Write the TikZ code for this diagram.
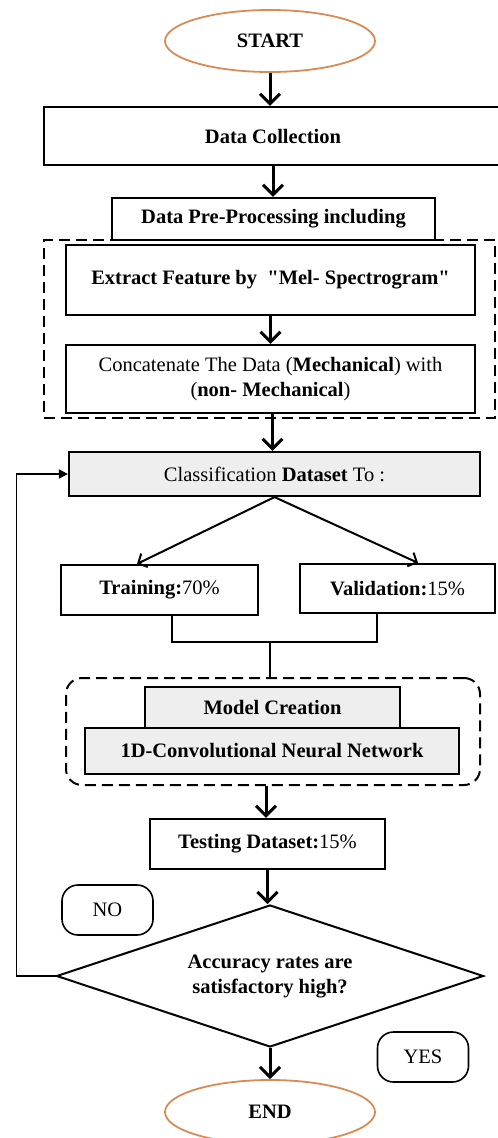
\documentclass[tikz,border=0pt]{standalone}
\usepackage{fontspec}
\setmainfont{Liberation Serif}[Ligatures=TeXOff]
\usetikzlibrary{shapes.geometric,arrows.meta}
\definecolor{orng}{RGB}{214,140,84}
\definecolor{boxgray}{RGB}{238,238,238}
\begin{document}
\begin{tikzpicture}[x=1pt,y=-1pt,
  every node/.style={font=\fontsize{20.5}{25}\selectfont, inner sep=0pt, align=center},
  term/.style={ellipse, draw=orng, line width=1.8pt, minimum width=210pt, minimum height=62pt, font=\fontsize{20.5}{25}\selectfont\bfseries},
  pbox/.style={rectangle, draw, line width=2.2pt},
  gbox/.style={pbox, fill=boxgray},
  grp/.style={draw, line width=2pt, dash pattern=on 11pt off 6pt},
  tag/.style={rectangle, draw, line width=1.6pt, rounded corners=16pt, minimum width=91pt, minimum height=50pt},
  arr/.style={line width=3pt, -{Straight Barb[length=10pt,width=20pt]}},
  darr/.style={line width=2pt, -{Straight Barb[length=7pt,width=15pt]}},
  line/.style={line width=2pt},
  farr/.style={line width=1.8pt, -{Triangle[length=9pt,width=9pt]}}
]
\useasboundingbox (0,0) rectangle (498,1138);

% groups
\node[grp, minimum width=451pt, minimum height=178pt] (grp1) at (269.5,329) {};
\node[grp, rounded corners=16pt, minimum width=414pt, minimum height=107pt] (grp2) at (273,731.5) {};

\node[term] (start) at (270,41) {START};
\node[pbox, fill=white, minimum width=458pt, minimum height=58pt] (collect) at (273,136) {\textbf{Data Collection}};
\node[pbox, fill=white, minimum width=323pt, minimum height=42pt] (pre) at (273.5,219) {\textbf{Data Pre-Processing including}};
\node[pbox, fill=white, minimum width=409pt, minimum height=70pt] (extract) at (270.5,280) {\textbf{Extract Feature by\ \ "Mel- Spectrogram"}};
\node[pbox, fill=white, minimum width=409pt, minimum height=68pt] (concat) at (270.5,379) {Concatenate The Data (\textbf{Mechanical}) with\\(\textbf{non- Mechanical})};
\node[gbox, minimum width=411pt, minimum height=44pt] (classif) at (274.5,474) {Classification \textbf{Dataset} To :};
\node[pbox, minimum width=197pt, minimum height=50pt] (train) at (159.5,590) {\textbf{Training:}70\%};
\node[pbox, minimum width=195pt, minimum height=49pt] (valid) at (397.5,588.5) {\textbf{Validation:}15\%};
\coordinate (j) at (270,642);
\node[gbox, minimum width=255pt, minimum height=41pt] (model) at (272.5,707.5) {\textbf{Model Creation}};
\node[gbox, minimum width=374pt, minimum height=46pt] (cnn) at (272,751) {\textbf{1D-Convolutional Neural Network}};
\node[pbox, minimum width=235pt, minimum height=50pt] (test) at (267.5,844) {\textbf{Testing Dataset:}15\%};
\node[diamond, draw, line width=2pt, aspect=3, minimum width=427pt, minimum height=142pt] (dia) at (270,976) {\textbf{Accuracy rates are}\\\textbf{satisfactory high?}};
\node[tag] (no) at (107.5,910) {NO};
\node[tag] (yes) at (423,1057) {YES};
\node[term, minimum height=64pt] (end) at (270,1112) {END};

% connectors
\draw[arr] (start.south) -- (start.south |- collect.north);
\draw[arr] (collect.south) -- (collect.south |- pre.north);
\draw[arr] (extract.south) -- (extract.south |- concat.north);
\draw[arr] ([xshift=2pt]concat.south) -- ([xshift=2pt]concat.south |- classif.north);
\draw[darr] (classif.south) -- ([xshift=-22.5pt]train.north);
\draw[darr] (classif.south) -- ([xshift=20.5pt]valid.north);
\draw[line] ([xshift=12.5pt]train.south) |- (j) -| ([xshift=-20.5pt]valid.south);
\draw[line] (j) -- (j |- grp2.north);
\draw[arr] ([xshift=-7pt]grp2.south) -- ([xshift=-7pt]grp2.south |- test.north);
\draw[arr] (test.south) -- (test.south |- dia.north);
\draw[arr] (dia.south) -- (dia.south |- end.north);
\draw[farr] (dia.west) -- ++(-39,0) |- (classif.west);
\end{tikzpicture}
\end{document}
